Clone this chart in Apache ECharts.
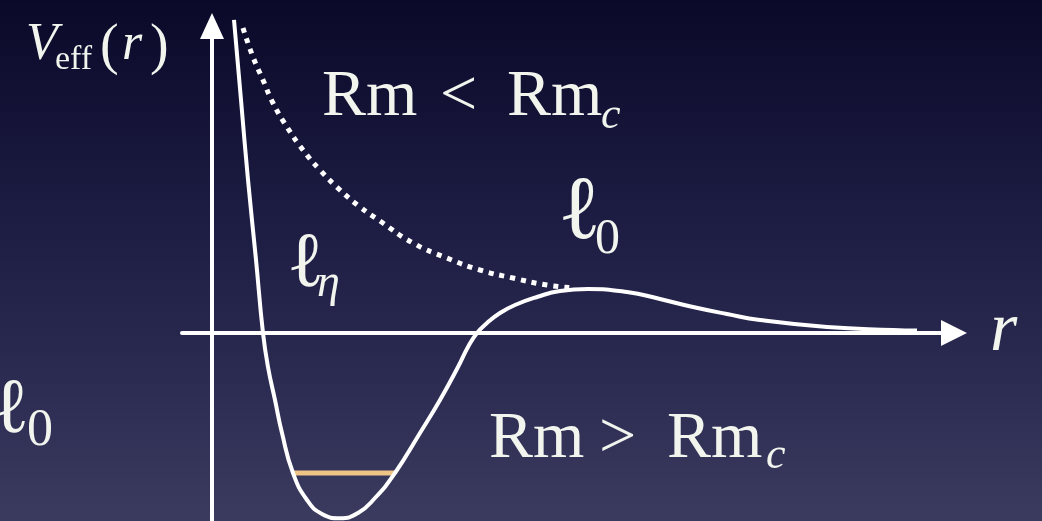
<!DOCTYPE html>
<html>
<head>
<meta charset="utf-8">
<title>Effective potential</title>
<script src="https://cdn.jsdelivr.net/npm/echarts@6/dist/echarts.min.js"></script>
<style>
  html, body { margin: 0; padding: 0; background: #0b0a2c; }
  #chart { width: 1042px; height: 521px; }
</style>
</head>
<body>
<div id="chart"></div>
<script>
// Effective potential V_eff(r), Rm > Rm_c (bound well): radius and potential samples
const wellR = [0.55, 0.725, 0.9, 1.1, 1.275, 1.4, 1.575, 1.75, 2.025, 2.375, 2.75, 3.2, 3.65, 4.075, 4.575, 5.2, 5.7, 6.15, 6.4, 6.625, 6.875, 7.2, 7.575, 8.125, 8.7, 9.4, 10.375, 11.2, 12.025, 12.875, 13.7, 15.375, 17.025, 17.625];
const wellV = [7.83, 5.83, 3.83, 1.83, 0, -0.85, -1.675, -2.5, -3.5, -4.175, -4.525, -4.63, -4.5, -4.125, -3.5, -2.5, -1.675, -0.85, -0.35, 0, 0.25, 0.5, 0.7, 0.9, 1.05, 1.1, 1.025, 0.85, 0.65, 0.475, 0.325, 0.15, 0.075, 0.06];

// Rm < Rm_c (purely repulsive branch, dotted)
const repR = [0.775, 1.025, 1.275, 1.525, 1.875, 2.275, 2.7, 3.2, 3.7, 4.2, 5.025, 5.875, 6.7, 7.525, 8.375, 9.075];
const repV = [7.625, 6.9, 6.325, 5.75, 5.15, 4.575, 4.075, 3.575, 3.15, 2.8, 2.25, 1.875, 1.575, 1.375, 1.2, 1.125];

// Bound energy level inside the well
const levelR = [2.0, 4.575];
const levelV = [-3.5, -3.5];

const zip = (a, b) => a.map((v, i) => [v, b[i]]);

const SERIF = '"Liberation Serif", "DejaVu Serif", serif';
const TEXT = '#f1f5ee';

// one glyph run placed on a baseline
function piece(text, x, base, size, italic) {
  return {
    type: 'text',
    silent: true,
    x: x,
    y: base - 0.34 * size,
    style: {
      text: text,
      font: (italic ? 'italic ' : '') + size + 'px ' + SERIF,
      fill: TEXT,
      align: 'left',
      verticalAlign: 'middle'
    }
  };
}

const labels = [
  // V_eff(r)
  piece('V', 26, 63, 52, true),
  piece('eff', 55, 72, 34, false),
  piece('(', 100, 67, 56, false),
  piece('r', 122, 63, 52, true),
  piece(')', 150, 67, 56, false),
  // Rm < Rm_c
  piece('Rm', 322, 120, 66, false),
  piece('<', 440, 120, 66, false),
  piece('Rm', 507, 120, 66, false),
  piece('c', 601, 131, 44, true),
  // Rm > Rm_c
  piece('Rm', 489, 462, 66, false),
  piece('>', 599, 462, 66, false),
  piece('Rm', 667, 462, 66, false),
  piece('c', 766, 471, 44, true),
  // l_0 at the barrier top
  piece('\u2113', 558, 245, 90, false),
  piece('0', 595, 257, 50, false),
  // l_eta
  piece('\u2113', 287, 292, 78, false),
  piece('\u03B7', 317, 300, 46, true),
  // l_0 at the left edge
  piece('\u2113', -8, 438, 78, false),
  piece('0', 27, 449, 52, false),
  // r
  piece('r', 990, 355, 70, true)
];

const chart = echarts.init(document.getElementById('chart'), null, { renderer: 'canvas' });

const axisCommon = {
  type: 'value',
  axisTick: { show: false },
  axisLabel: { show: false },
  splitLine: { show: false }
};

chart.setOption({
  animation: false,
  backgroundColor: {
    type: 'linear', x: 0, y: 0, x2: 0, y2: 1,
    colorStops: [
      { offset: 0, color: '#0a0929' },
      { offset: 0.45, color: '#1e1e45' },
      { offset: 0.7, color: '#2a2a51' },
      { offset: 1, color: '#3b3b5f' }
    ]
  },
  grid: { left: 182, right: 88, top: 26, bottom: 0, containLabel: false },
  xAxis: Object.assign({}, axisCommon, {
    min: -0.75, max: 18.55,
    axisLine: {
      show: true, onZero: true,
      symbol: ['none', 'triangle'], symbolSize: [26, 26],
      lineStyle: { color: '#ffffff', width: 4 }
    }
  }),
  yAxis: Object.assign({}, axisCommon, {
    min: -4.7, max: 7.675,
    axisLine: {
      show: true, onZero: true,
      symbol: ['none', 'triangle'], symbolSize: [24, 26],
      lineStyle: { color: '#ffffff', width: 4 }
    }
  }),
  series: [
    {
      type: 'line', name: 'level', data: zip(levelR, levelV),
      showSymbol: false, silent: true, clip: false, z: 3,
      lineStyle: { color: '#efc385', width: 5, cap: 'butt' }
    },
    {
      type: 'line', name: 'repulsive', data: zip(repR, repV),
      smooth: true, showSymbol: false, silent: true, clip: false, z: 2,
      lineStyle: { color: '#ffffff', width: 5, type: [5, 6], cap: 'butt' }
    },
    {
      type: 'line', name: 'well', data: zip(wellR, wellV),
      smooth: true, showSymbol: false, silent: true, clip: false, z: 4,
      lineStyle: { color: '#ffffff', width: 4 }
    }
  ],
  graphic: labels
});
</script>
</body>
</html>
